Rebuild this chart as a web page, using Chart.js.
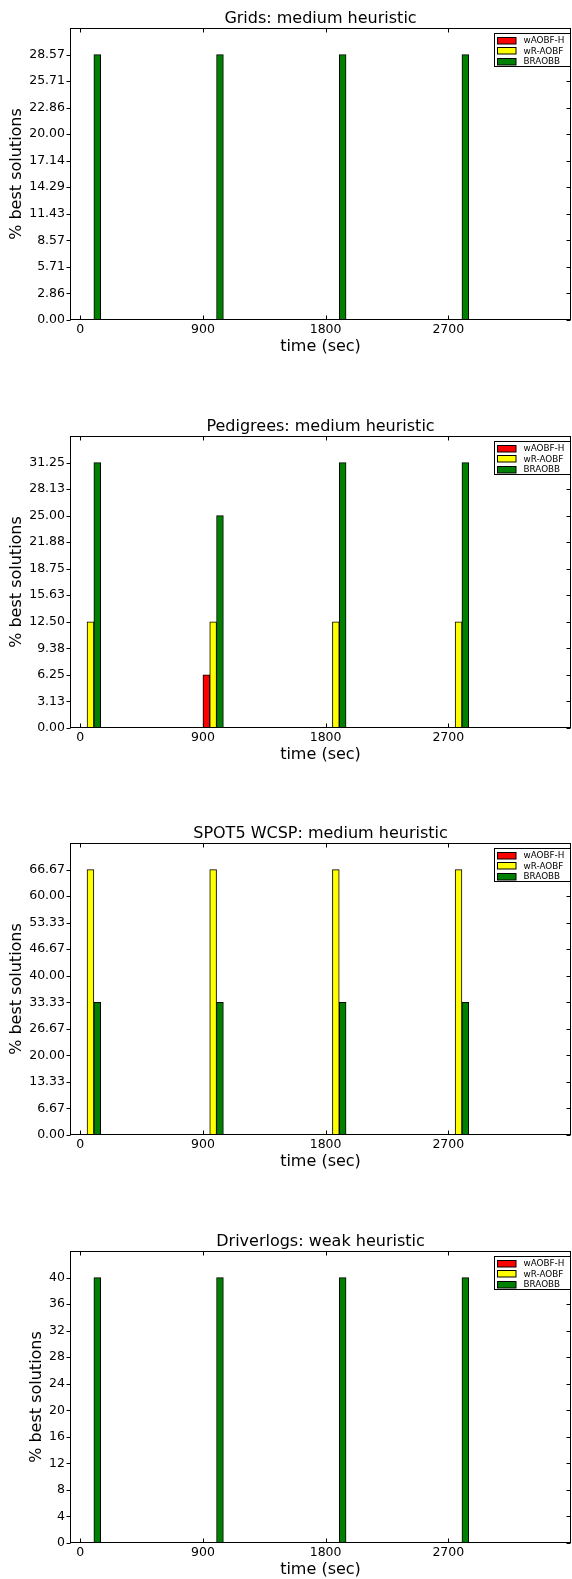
<!DOCTYPE html>
<html>
<head>
<meta charset="utf-8">
<script src="https://cdn.jsdelivr.net/npm/chart.js@4.4.1/dist/chart.umd.min.js"></script>
<style>
  body { margin: 0; background: #fff; width: 572px; height: 1579px; overflow: hidden; position: relative; }
  canvas { position: absolute; left: 0; }
</style>
</head>
<body>
<canvas id="c0" width="572" height="356" style="top:0px"></canvas>
<canvas id="c1" width="572" height="356" style="top:408px"></canvas>
<canvas id="c2" width="572" height="356" style="top:815px"></canvas>
<canvas id="c3" width="572" height="356" style="top:1223px"></canvas>
<script>
// time checkpoints (sec) and solvers
const times = [0, 900, 1800, 2700];
const seriesNames = ["wAOBF-H", "wR-AOBF", "BRAOBB"];
const seriesColors = ["#ff0000", "#ffff00", "#008000"];

// Grids
const gridsWaobf = [0, 0, 0, 0];
const gridsWraobf = [0, 0, 0, 0];
const gridsBraobb = [28.57, 28.57, 28.57, 28.57];
const gridsTicks = ["0.00", "2.86", "5.71", "8.57", "11.43", "14.29", "17.14", "20.00", "22.86", "25.71", "28.57"];

// Pedigrees
const pedWaobf = [0, 6.25, 0, 0];
const pedWraobf = [12.5, 12.5, 12.5, 12.5];
const pedBraobb = [31.25, 25, 31.25, 31.25];
const pedTicks = ["0.00", "3.13", "6.25", "9.38", "12.50", "15.63", "18.75", "21.88", "25.00", "28.13", "31.25"];

// SPOT5 WCSP
const spotWaobf = [0, 0, 0, 0];
const spotWraobf = [66.67, 66.67, 66.67, 66.67];
const spotBraobb = [33.33, 33.33, 33.33, 33.33];
const spotTicks = ["0.00", "6.67", "13.33", "20.00", "26.67", "33.33", "40.00", "46.67", "53.33", "60.00", "66.67"];

// Driverlogs
const drvWaobf = [0, 0, 0, 0];
const drvWraobf = [0, 0, 0, 0];
const drvBraobb = [40, 40, 40, 40];
const drvTicks = ["0", "4", "8", "12", "16", "20", "24", "28", "32", "36", "40"];

const FONT = "DejaVu Sans";
const barWidth = 50; // sec per bar

// spines, inward ticks, titles and legend, matplotlib style
const decorPlugin = {
  id: "decor",
  afterDraw(chart, args, opts) {
    const { ctx, chartArea: a, scales } = chart;
    const L = Math.round(a.left) + 0.5, R = Math.round(a.right) - 0.5;
    const T = Math.round(a.top) + 0.5, B = Math.round(a.bottom) - 0.5;
    ctx.save();
    ctx.strokeStyle = "#000";
    ctx.lineWidth = 1;
    ctx.strokeRect(L, T, R - L, B - T);

    ctx.beginPath();
    scales.x.ticks.forEach((t) => {
      const px = Math.round(scales.x.getPixelForValue(t.value)) + 0.5;
      ctx.moveTo(px, B); ctx.lineTo(px, B - 4);
      ctx.moveTo(px, T); ctx.lineTo(px, T + 4);
    });
    scales.y.ticks.forEach((t) => {
      const py = Math.round(scales.y.getPixelForValue(t.value)) + 0.5;
      ctx.moveTo(L - 4, py); ctx.lineTo(L, py);
      ctx.moveTo(R, py); ctx.lineTo(R - 4, py);
    });
    ctx.stroke();

    ctx.fillStyle = "#000";
    ctx.font = `16px "${FONT}"`;
    ctx.textAlign = "center";
    ctx.textBaseline = "alphabetic";
    ctx.fillText(opts.title, (a.left + a.right) / 2, a.top - 5);
    ctx.fillText("time (sec)", (a.left + a.right) / 2, a.bottom + 31);

    // y title sits just left of the widest tick label
    ctx.font = `12.5px "${FONT}"`;
    const maxW = Math.max(...opts.ticks.map((s) => ctx.measureText(s).width));
    ctx.save();
    ctx.translate(a.left - 5 - maxW - 12, (a.top + a.bottom) / 2);
    ctx.rotate(-Math.PI / 2);
    ctx.font = `16px "${FONT}"`;
    ctx.textBaseline = "middle";
    ctx.fillText("% best solutions", 0, 0);
    ctx.restore();

    // legend
    const bw = 76, bh = 33;
    const bx = Math.round(a.right - 1.5 - bw) + 0.5, by = Math.round(a.top + 5) + 0.5;
    ctx.fillStyle = "#fff";
    ctx.fillRect(bx, by, bw, bh);
    ctx.strokeRect(bx, by, bw, bh);
    ctx.font = `8.8px "${FONT}"`;
    ctx.textAlign = "left";
    ctx.textBaseline = "middle";
    seriesNames.forEach((name, i) => {
      const cy = by + 7 + i * 10.3;
      ctx.fillStyle = seriesColors[i];
      ctx.fillRect(bx + 3, Math.round(cy - 3.5) + 0.5, 18.5, 6.5);
      ctx.strokeRect(bx + 3, Math.round(cy - 3.5) + 0.5, 18.5, 6.5);
      ctx.fillStyle = "#000";
      ctx.fillText(name, bx + 29, cy + 0.5);
    });
    ctx.restore();
  },
};

const makeChart = (id, title, series, tickLabels) => {
  const yMax = parseFloat(tickLabels[tickLabels.length - 1]) * 1.1;
  const datasets = series.map((vals, k) => ({
    label: seriesNames[k],
    data: times.map((t, i) => ({ x: t + barWidth * (k + 0.5), y: vals[i] })),
    backgroundColor: seriesColors[k],
    borderColor: "#000",
    borderWidth: 1,
    borderSkipped: false,
    grouped: false,
    barPercentage: 1,
    categoryPercentage: 1,
  }));

  return new Chart(document.getElementById(id).getContext("2d"), {
    type: "bar",
    data: { datasets },
    plugins: [decorPlugin],
    options: {
      responsive: false,
      animation: false,
      events: [],
      layout: { padding: { top: 28, right: 1, left: 0, bottom: 0 } },
      plugins: {
        legend: { display: false },
        tooltip: { enabled: false },
        decor: { title, ticks: tickLabels },
      },
      scales: {
        x: {
          type: "linear",
          min: -75,
          max: 3600,
          offset: false,
          grid: { display: false, drawTicks: false },
          border: { display: false },
          afterBuildTicks: (s) => { s.ticks = times.map((v) => ({ value: v })); },
          afterFit: (s) => { s.height = 36; },
          ticks: {
            padding: 2,
            color: "#000",
            maxRotation: 0,
            autoSkip: false,
            font: { family: FONT, size: 12.5 },
            callback: (v) => String(v),
          },
        },
        y: {
          min: 0,
          max: yMax,
          grid: { display: false, drawTicks: false },
          border: { display: false },
          afterBuildTicks: (s) => { s.ticks = tickLabels.map((t) => ({ value: parseFloat(t) })); },
          afterFit: (s) => { s.width = 70; },
          ticks: {
            padding: 5,
            color: "#000",
            autoSkip: false,
            font: { family: FONT, size: 12.5 },
            callback: (v, i) => tickLabels[i],
          },
        },
      },
    },
  });
};

makeChart("c0", "Grids: medium heuristic", [gridsWaobf, gridsWraobf, gridsBraobb], gridsTicks);
makeChart("c1", "Pedigrees: medium heuristic", [pedWaobf, pedWraobf, pedBraobb], pedTicks);
makeChart("c2", "SPOT5 WCSP: medium heuristic", [spotWaobf, spotWraobf, spotBraobb], spotTicks);
makeChart("c3", "Driverlogs: weak heuristic", [drvWaobf, drvWraobf, drvBraobb], drvTicks);
</script>
</body>
</html>
